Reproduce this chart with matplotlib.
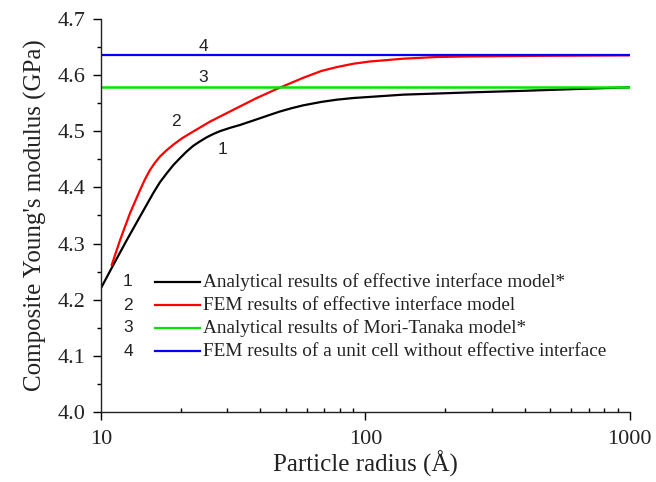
import matplotlib.pyplot as plt
import numpy as np
from matplotlib.ticker import LogLocator, FixedLocator, MultipleLocator, FormatStrFormatter, NullFormatter

# curve 1: analytical, effective interface model
r1 = [10.06, 11.13, 12.51, 14.04, 15.77, 16.7, 17.72, 18.8, 19.89, 21.1, 22.34, 23.7,
      25.09, 26.6, 28.18, 30.8, 33.54, 36.6, 39.92, 43.5, 47.5, 52.7, 58.2, 68, 77.8,
      90, 104, 139, 186, 248, 407, 724, 1000]
e1 = [4.223, 4.262, 4.306, 4.348, 4.390, 4.409, 4.425, 4.440, 4.452, 4.464, 4.474, 4.482,
      4.489, 4.495, 4.500, 4.506, 4.511, 4.517, 4.523, 4.529, 4.535, 4.541, 4.546, 4.552,
      4.556, 4.559, 4.561, 4.565, 4.567, 4.569, 4.572, 4.576, 4.578]
# curve 2: FEM, effective interface model
r2 = [10.98, 11.80, 12.87, 14.04, 14.65, 15.32, 16.0, 16.72, 17.7, 18.77, 20.2, 21.71,
      25.83, 31.64, 38.79, 46.16, 58.2, 68, 77.8, 90, 104, 139, 186, 248, 419, 1000]
e2 = [4.262, 4.306, 4.354, 4.395, 4.414, 4.431, 4.444, 4.455, 4.466, 4.476, 4.487, 4.496,
      4.517, 4.538, 4.559, 4.575, 4.595, 4.607, 4.614, 4.620, 4.624, 4.629, 4.632, 4.633,
      4.634, 4.635]
# 3: Mori-Tanaka, 4: unit cell without interface
mt_val = 4.578
fem_val = 4.636
x_range = [10, 1000]

legend_labels = ['Analytical results of effective interface model*',
                 'FEM results of effective interface model',
                 'Analytical results of Mori-Tanaka model*',
                 'FEM results of a unit cell without effective interface']
colors = ['black', '#ff0000', '#00e600', '#0000ff']

serif = 'Liberation Serif'
sans = 'Liberation Sans'

fig = plt.figure(figsize=(6.56, 4.82), dpi=100)
ax = fig.add_axes([0.154, 0.145, 0.806, 0.816])

ax.plot(r1, e1, color=colors[0], lw=1.6)
ax.plot(r2, e2, color=colors[1], lw=1.6)
ax.plot(x_range, [mt_val, mt_val], color=colors[2], lw=1.8)
ax.plot(x_range, [fem_val, fem_val], color=colors[3], lw=1.6)

ax.set_xscale('log')
ax.set_xlim(10, 1000)
ax.set_ylim(4.0, 4.7)
ax.spines['top'].set_visible(False)
ax.spines['right'].set_visible(False)
for s in ['left', 'bottom']:
    ax.spines[s].set_linewidth(1.0)
    ax.spines[s].set_color('#222222')

ax.yaxis.set_major_locator(MultipleLocator(0.1))
ax.yaxis.set_minor_locator(MultipleLocator(0.05))
ax.yaxis.set_major_formatter(FormatStrFormatter('%.1f'))
ax.xaxis.set_major_locator(FixedLocator([10, 100, 1000]))
ax.xaxis.set_major_formatter(FormatStrFormatter('%d'))
ax.xaxis.set_minor_locator(LogLocator(base=10, subs=np.arange(2, 10)))
ax.xaxis.set_minor_formatter(NullFormatter())

ax.tick_params(axis='y', which='major', direction='out', length=6, width=1, pad=5)
ax.tick_params(axis='y', which='minor', direction='out', length=3, width=1)
ax.tick_params(axis='x', which='major', direction='out', length=6, width=1, pad=7)
ax.tick_params(axis='x', which='minor', direction='in', length=3, width=1)
for lab in ax.get_xticklabels() + ax.get_yticklabels():
    lab.set_fontfamily(serif)
    lab.set_fontsize(16)
    lab.set_color('#222222')

ax.set_xlabel('Particle radius (Å)', fontfamily=serif, fontsize=18, color='#222222', labelpad=1)
ax.set_ylabel("Composite Young's modulus (GPa)", fontfamily=serif, fontsize=18,
              color='#222222', labelpad=8)

# curve numbers
ax.text(24.3, 4.650, '4', fontfamily=sans, fontsize=12.5, ha='center', va='center', color='#222222')
ax.text(24.3, 4.595, '3', fontfamily=sans, fontsize=12.5, ha='center', va='center', color='#222222')
ax.text(19.2, 4.517, '2', fontfamily=sans, fontsize=12.5, ha='center', va='center', color='#222222')
ax.text(28.7, 4.467, '1', fontfamily=sans, fontsize=12.5, ha='center', va='center', color='#222222')

# legend, drawn by hand with numbers in front
rows = [0.331, 0.272, 0.214, 0.155]
for i, y in enumerate(rows):
    ax.text(0.051, y, str(i + 1), transform=ax.transAxes, fontfamily=sans, fontsize=12.5,
            ha='center', va='center', color='#222222')
    ax.plot([0.102, 0.187], [y, y], transform=ax.transAxes, color=colors[i], lw=1.6)
    ax.text(0.193, y, legend_labels[i], transform=ax.transAxes, fontfamily=serif,
            fontsize=13.9, ha='left', va='center', color='#222222')

fig.savefig('out.png', dpi=100)
